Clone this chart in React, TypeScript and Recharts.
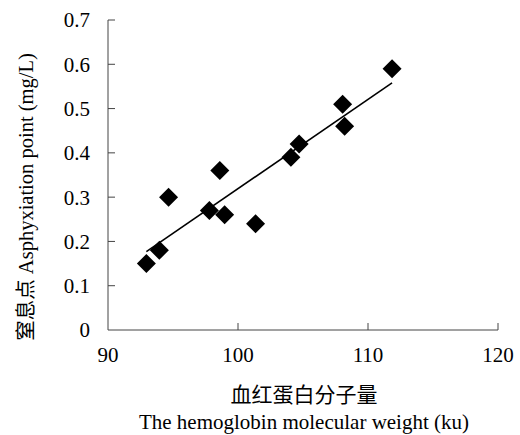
import { Label, Scatter, ScatterChart, XAxis, YAxis } from "recharts";

const weight = [92.95, 93.95, 94.66, 97.8, 98.6, 98.97, 101.35, 104.07, 104.7, 108.05, 108.2, 111.85];
const asphyxia = [0.15, 0.18, 0.3, 0.27, 0.36, 0.26, 0.24, 0.39, 0.42, 0.51, 0.46, 0.59];
const trendX = [92.95, 111.85];
const trendY = [0.177, 0.558];
const xTicks = [90, 100, 110, 120];
const yTicks = [0, 0.1, 0.2, 0.3, 0.4, 0.5, 0.6, 0.7];

const points = weight.map((x, i) => ({ x, y: asphyxia[i] }));
const trend = trendX.map((x, i) => ({ x, y: trendY[i] }));

const font = '"Liberation Serif", "Noto Sans CJK SC", serif';
const axisColor = "#444";
const fs = 21;
const textStyle = { fontFamily: font };

function Diamond(props: any) {
  const { cx, cy } = props;
  const r = 9.5;
  return (
    <polygon
      points={`${cx},${cy - r} ${cx + r},${cy} ${cx},${cy + r} ${cx - r},${cy}`}
      fill="#000"
    />
  );
}

function YTick(props: any) {
  const { x, y, payload } = props;
  const ax = x + 18;
  return (
    <g>
      {payload.value !== 0 && (
        <line x1={ax} x2={ax + 7} y1={y} y2={y} stroke={axisColor} />
      )}
      <text x={x} y={y} dy="0.355em" textAnchor="end" style={textStyle} fontSize={fs} fill="#000">
        {payload.value}
      </text>
    </g>
  );
}

function XTick(props: any) {
  const { x, y, payload } = props;
  const ay = y - 17;
  return (
    <g>
      {payload.value !== 90 && (
        <line x1={x} x2={x} y1={ay} y2={ay - 7} stroke={axisColor} />
      )}
      <text x={x} y={y} dy="0.71em" textAnchor="middle" style={textStyle} fontSize={fs} fill="#000">
        {payload.value}
      </text>
    </g>
  );
}

export default function App() {
  return (
    <div style={{ position: "absolute", left: 0, top: 0, background: "#fff" }}>
      <ScatterChart width={520} height={435} margin={{ top: 20, right: 22, bottom: 0, left: 0 }}>
        <XAxis
          type="number"
          dataKey="x"
          domain={[90, 120]}
          ticks={xTicks}
          tickSize={0}
          tickMargin={17}
          tick={<XTick />}
          height={105}
          stroke={axisColor}
          interval={0}
        >
          <Label
            content={() => (
              <g style={textStyle} fill="#000">
                <text x={304} y={402} textAnchor="middle" fontSize={fs}>
                  血红蛋白分子量
                </text>
                <text x={304} y={429} textAnchor="middle" fontSize={fs}>
                  The hemoglobin molecular weight (ku)
                </text>
              </g>
            )}
          />
        </XAxis>
        <YAxis
          type="number"
          dataKey="y"
          domain={[0, 0.7]}
          ticks={yTicks}
          tickSize={0}
          tickMargin={18}
          tick={<YTick />}
          width={108}
          stroke={axisColor}
          interval={0}
        >
          <Label
            content={() => (
              <text
                x={33}
                y={197}
                textAnchor="middle"
                style={textStyle}
                fontSize={20.5}
                fill="#000"
                transform="rotate(-90 33 197)"
              >
                窒息点 Asphyxiation point (mg/L)
              </text>
            )}
          />
        </YAxis>
        <Scatter data={points} shape={<Diamond />} isAnimationActive={false} />
        <Scatter
          data={trend}
          line={{ stroke: "#000", strokeWidth: 1.6 }}
          shape={() => <g />}
          isAnimationActive={false}
        />
      </ScatterChart>
    </div>
  );
}
